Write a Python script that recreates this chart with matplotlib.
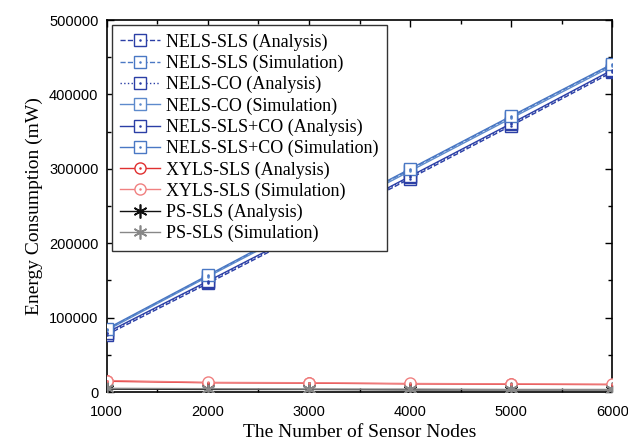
import matplotlib.pyplot as plt
from matplotlib.ticker import MultipleLocator

nodes = [1000, 2000, 3000, 4000, 5000, 6000]

nels_sls_ana = [77000, 146000, 216000, 287000, 358000, 430000]
nels_sls_sim = [84000, 156000, 228000, 299000, 370000, 440000]
nels_co_ana = [79000, 148000, 218000, 289000, 360000, 432000]
nels_co_sim = [83000, 155000, 226000, 297000, 368000, 438000]
nels_both_ana = [80000, 149000, 219000, 290000, 361000, 433000]
nels_both_sim = [85000, 157000, 229000, 300000, 371000, 441000]
xyls_ana = [14500, 12500, 12000, 11000, 10500, 10000]
xyls_sim = [15500, 13000, 12500, 11500, 11000, 10500]
ps_ana = [4000, 3500, 3500, 3000, 3000, 3000]
ps_sim = [5000, 4500, 4000, 4000, 3500, 3500]

dark = '#2b3fa6'
light = '#4a78c4'

series = [
    ("NELS-SLS (Analysis)", nels_sls_ana, dark, '--', 's'),
    ("NELS-SLS (Simulation)", nels_sls_sim, light, '--', 's'),
    ("NELS-CO (Analysis)", nels_co_ana, dark, ':', 's'),
    ("NELS-CO (Simulation)", nels_co_sim, '#5d8acc', '-', 's'),
    ("NELS-SLS+CO (Analysis)", nels_both_ana, dark, '-', 's'),
    ("NELS-SLS+CO (Simulation)", nels_both_sim, light, '-', 's'),
    ("XYLS-SLS (Analysis)", xyls_ana, '#e03030', '-', 'o'),
    ("XYLS-SLS (Simulation)", xyls_sim, '#f08080', '-', 'o'),
    ("PS-SLS (Analysis)", ps_ana, '#111111', '-', '*'),
    ("PS-SLS (Simulation)", ps_sim, '#888888', '-', '*'),
]

fig = plt.figure(figsize=(6.28, 4.45), dpi=100)
ax = fig.add_axes([0.170, 0.119, 0.805, 0.836])

handles = []
labels = []
for name, vals, col, ls, mk in series:
    if mk == '*':
        ln, = ax.plot(nodes, vals, color=col, ls=ls, lw=1.0, marker=(6, 2, 0),
                      ms=10, mew=1.2, zorder=3)
        handles.append(ln)
    else:
        ln, = ax.plot(nodes, vals, color=col, ls=ls, lw=1.0, marker=mk, ms=8,
                      mfc='white', mec=col, mew=1.0, zorder=3)
        dot, = ax.plot(nodes, vals, ls='none', marker='.', ms=1.6, color=col,
                       zorder=4)
        handles.append((ln, dot))
    labels.append(name)

ax.set_xlim(1000, 6000)
ax.set_ylim(0, 500000)
ax.xaxis.set_major_locator(MultipleLocator(1000))
ax.xaxis.set_minor_locator(MultipleLocator(500))
ax.yaxis.set_major_locator(MultipleLocator(100000))
ax.yaxis.set_minor_locator(MultipleLocator(50000))
ax.tick_params(which='both', direction='in', top=True, right=True,
               labelsize=10.5, width=1.0)
ax.tick_params(which='major', length=5)
ax.tick_params(which='minor', length=3)
ax.tick_params(axis='x', pad=9)
ax.tick_params(axis='y', pad=6)
for lab in ax.get_xticklabels() + ax.get_yticklabels():
    lab.set_family('Liberation Sans')
for sp in ax.spines.values():
    sp.set_linewidth(1.2)

ax.set_xlabel("The Number of Sensor Nodes", family='Liberation Serif', fontsize=14)
ax.set_ylabel("Energy Consumption (mW)", family='Liberation Serif', fontsize=14)

leg = ax.legend(handles, labels, loc='upper left', prop={'family': 'Liberation Serif', 'size': 13},
                frameon=True, fancybox=False, edgecolor='#333333', framealpha=1,
                handlelength=2.2, labelspacing=0.22, borderaxespad=0.3,
                handletextpad=0.35, borderpad=0.45)
leg.get_frame().set_linewidth(1.0)

fig.savefig('out.png', dpi=100)
